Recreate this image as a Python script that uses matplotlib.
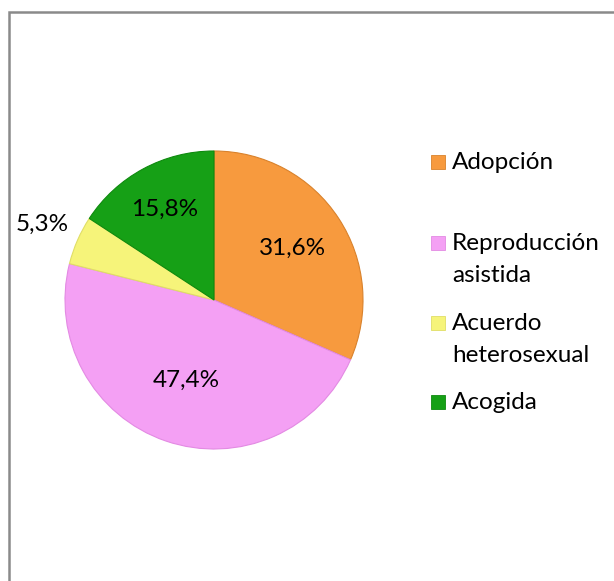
import matplotlib
matplotlib.use("Agg")
import matplotlib.pyplot as plt
from matplotlib.patches import Rectangle
import numpy as np

categories = ["Adopción", "Reproducción\nasistida", "Acuerdo\nheterosexual", "Acogida"]
values = [31.6, 47.4, 5.3, 15.8]
labels_pct = ["31,6%", "47,4%", "5,3%", "15,8%"]
colors = ["#F79A3E", "#F4A0F4", "#F6F47A", "#16A016"]
edge_colors = ["#D9822C", "#E38AE3", "#E0DE66", "#0E8A0E"]

plt.rcParams['font.family'] = ['Lato', 'DejaVu Sans']

W, H = 614, 581
fig = plt.figure(figsize=(W / 100, H / 100), dpi=100)

cx, cy, R = 214, 300, 149
ax = fig.add_axes([(cx - R) / W, (H - cy - R) / H, 2 * R / W, 2 * R / H])
wedges, _ = ax.pie(values, colors=colors, startangle=90, counterclock=False,
                   radius=1, wedgeprops=dict(linewidth=0.8))
for w, ec in zip(wedges, edge_colors):
    w.set_edgecolor(ec)
ax.set_xlim(-1, 1)
ax.set_ylim(-1, 1)
ax.set_aspect("equal")
ax.axis("off")

dists = [0.63, 0.57, 1.26, 0.69]
for w, lab, d in zip(wedges, labels_pct, dists):
    ang = np.deg2rad((w.theta1 + w.theta2) / 2)
    ax.text(d * np.cos(ang), d * np.sin(ang), lab, ha="center", va="center",
            fontsize=17.5, color="black", clip_on=False)

# legend
baselines = [169, 250, 330, 409]
line_gap = 32
for lab, col, ec, yb in zip(categories, colors, edge_colors, baselines):
    fig.patches.append(Rectangle((431 / W, (H - yb + 0) / H), 14 / W, 14 / H,
                                 transform=fig.transFigure, facecolor=col,
                                 edgecolor=ec, linewidth=0.6))
    for i, line in enumerate(lab.split("\n")):
        fig.text(452 / W, (H - yb - i * line_gap) / H, line, ha="left",
                 va="baseline", fontsize=17.5)

# border
fig.patches.append(Rectangle((8.5 / W, -0.1), 1.2, (H - 11.5) / H + 0.1,
                             transform=fig.transFigure, fill=False,
                             edgecolor="#8a8a8a", linewidth=1.8))

fig.savefig("out.png", dpi=100)
